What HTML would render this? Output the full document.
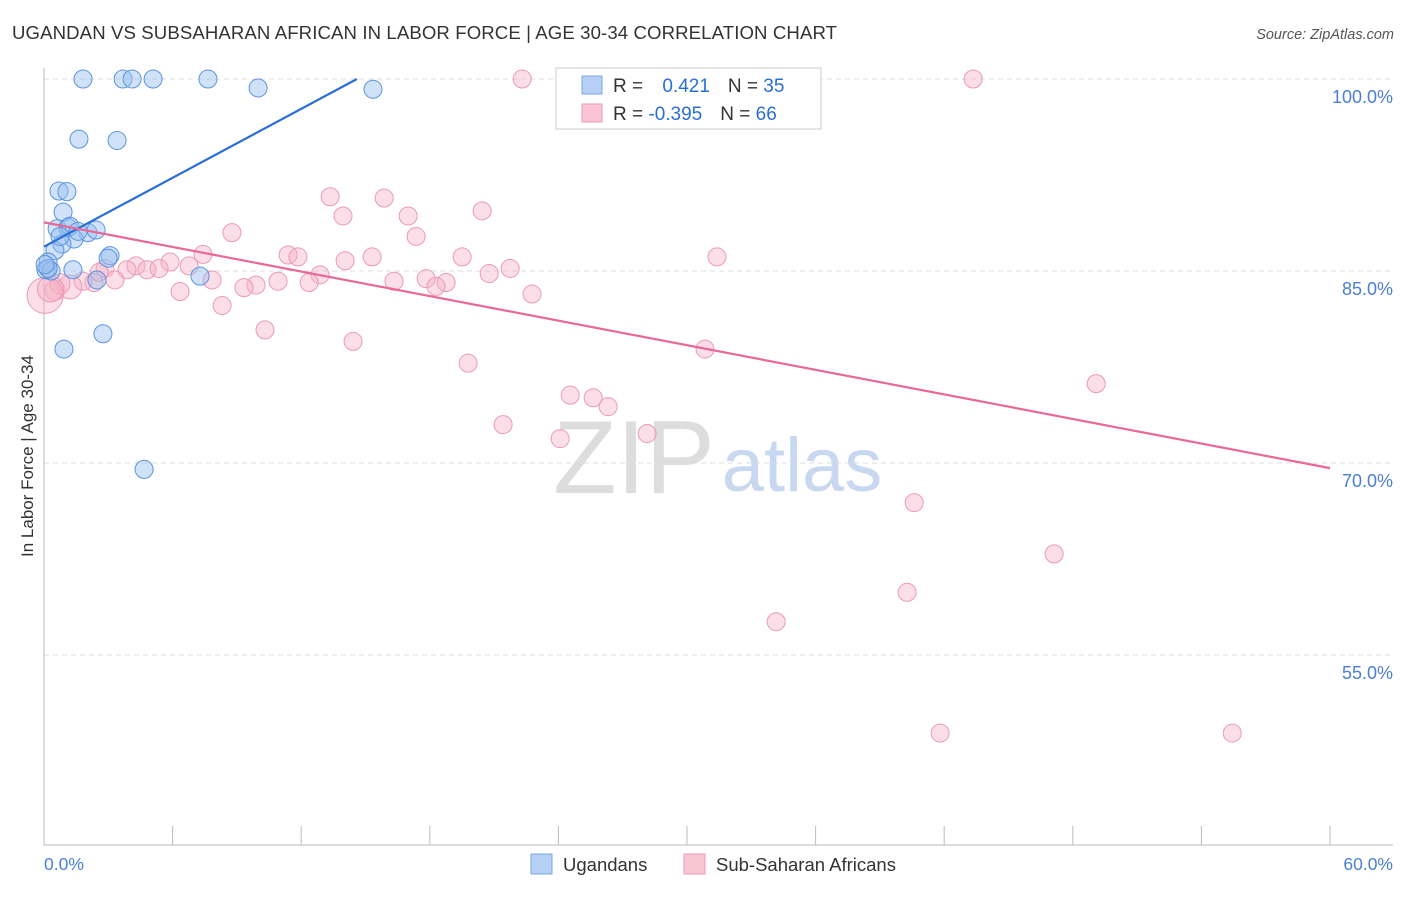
<!DOCTYPE html>
<html><head><meta charset="utf-8"><style>
body{margin:0;background:#fff;font-family:"Liberation Sans",sans-serif;}
svg text{font-family:"Liberation Sans",sans-serif;}
</style></head><body>
<svg id="chart" width="1406" height="892">
<text x="12" y="39" font-size="18.6" fill="#333" textLength="825">UGANDAN VS SUBSAHARAN AFRICAN IN LABOR FORCE | AGE 30-34 CORRELATION CHART</text>
<text x="1394" y="39" font-size="14.5" fill="#555" font-style="italic" text-anchor="end">Source: ZipAtlas.com</text>
<text x="634" y="493" font-size="104" fill="#ddd" font-family="Liberation Serif" text-anchor="middle">ZIP</text>
<text x="802" y="491" font-size="76" fill="#c8d8f0" text-anchor="middle">atlas</text>
<g id="grid"></g>
<line x1="44" y1="68" x2="44" y2="845" stroke="#bbb"/>
<line x1="44" y1="845" x2="1393" y2="845" stroke="#bbb"/>
<text x="33" y="456" font-size="17" fill="#333" text-anchor="middle" transform="rotate(-90 33 456)">In Labor Force | Age 30-34</text>
<text x="44" y="870" font-size="17.5" fill="#4a7fd4">0.0%</text>
<text x="1393" y="870" font-size="17.5" fill="#4a7fd4" text-anchor="end">60.0%</text>
<g id="pts"></g>
<g id="trend"></g>
<g>
<rect x="556" y="68" width="265" height="61" fill="#fff" stroke="#ccc"/>
<rect x="582" y="76" width="20" height="18" fill="#b5d0f3" stroke="#7aa6e6"/>
<rect x="582" y="104" width="20" height="18" fill="#f9c5d5" stroke="#ef9ab6"/>
<text x="613" y="92" font-size="19" fill="#333">R = <tspan fill="#2a6fd6" dx="14">0.421</tspan><tspan fill="#333" dx="18">N = </tspan><tspan fill="#2a6fd6">35</tspan></text>
<text x="613" y="120" font-size="19" fill="#333">R = <tspan fill="#2a6fd6">-0.395</tspan><tspan fill="#333" dx="18">N = </tspan><tspan fill="#2a6fd6">66</tspan></text>
</g>
<g>
<rect x="531" y="854" width="21" height="20" fill="#b5d0f3" stroke="#7aa6e6"/>
<text x="563" y="871" font-size="18.5" fill="#333">Ugandans</text>
<rect x="684" y="854" width="21" height="20" fill="#f9c5d5" stroke="#ef9ab6"/>
<text x="716" y="871" font-size="18.5" fill="#333">Sub-Saharan Africans</text>
</g>
</svg>
<script>
const yTicks=[100,85,70,55];
const yTickLabels=["100.0%","85.0%","70.0%","55.0%"];
const xTicks=[0,6,12,18,24,30,36,42,48,54,60];
const blueX=[1.82,3.69,4.11,5.09,7.65,9.99,15.35,1.63,3.41,0.70,1.07,0.89,0.61,1.12,1.21,2.05,2.43,1.40,0.84,0.51,0.19,0.09,0.33,1.35,3.08,2.99,2.47,7.28,0.93,2.75,4.67,0.19,0.75,1.59,0.05];
const blueY=[100,100,100,100,100,99.3,99.2,95.3,95.2,91.25,91.2,89.6,88.3,88.4,88.5,88.0,88.2,87.5,87.1,86.6,85.7,85.1,85.0,85.1,86.2,86.0,84.3,84.6,78.9,80.1,69.5,85.2,87.7,88.1,85.5];
const pinkX=[22.31,27.95,35.37,43.35,13.35,15.87,13.95,16.99,20.44,8.77,17.36,11.39,11.85,15.31,14.05,19.51,31.40,7.42,5.88,6.77,4.29,4.81,5.37,3.87,2.85,21.75,20.77,12.88,17.83,16.33,18.76,18.29,12.37,10.92,9.89,9.33,7.84,3.31,2.33,1.82,6.35,22.77,8.31,10.31,14.42,30.84,19.79,49.09,24.55,25.62,26.32,21.42,24.08,28.14,40.60,47.13,40.27,34.16,41.81,55.44,0.51,1.21,0.75,2.57,0.05,0.3];
const pinkY=[100,100,100,100,90.8,90.7,89.3,89.3,89.7,88.0,87.7,86.25,86.1,86.1,85.8,86.1,86.1,86.3,85.7,85.4,85.4,85.1,85.2,85.1,85.2,85.2,84.8,84.7,84.4,84.2,84.1,83.8,84.1,84.2,83.9,83.7,84.3,84.3,84.1,84.2,83.4,83.2,82.3,80.4,79.5,78.9,77.8,76.2,75.3,75.1,74.4,73.0,71.9,72.3,66.9,62.9,59.9,57.6,48.9,48.9,83.5,83.75,84.0,84.9,83.1,83.6];
const pinkR=[9,9,9,9,9,9,9,9,9,9,9,9,9,9,9,9,9,9,9,9,9,9,9,9,9,9,9,9,9,9,9,9,9,9,9,9,9,9,9,9,9,9,9,9,9,9,9,9,9,9,9,9,9,9,9,9,9,9,9,9,10,12,10,9,18,13];
const blueTrend=[[0,86.9],[14.6,100]];
const pinkTrend=[[0,88.8],[60,69.6]];
const X=v=>44+v*(1330-44)/60;
const Y=v=>79+(100-v)*192/15;
const NS="http://www.w3.org/2000/svg";
const grid=document.getElementById('grid'),pts=document.getElementById('pts'),tr=document.getElementById('trend');
function mk(tag,at,parent){const e=document.createElementNS(NS,tag);for(const k in at)e.setAttribute(k,at[k]);parent.appendChild(e);return e;}
yTicks.forEach((t,i)=>{
 const l=mk('line',{x1:44,x2:1393,y1:Y(t),y2:Y(t),stroke:'#ddd','stroke-dasharray':'5,4'},grid);
 
 
 const tx=mk('text',{x:1393,y:Y(t)+24,'font-size':18,fill:'#4a7fd4','text-anchor':'end'},grid);
 tx.textContent=yTickLabels[i];
 
 
});
xTicks.forEach(t=>{
 const l=mk('line',{x1:X(t),x2:X(t),y1:826,y2:845,stroke:'#bbb'},grid);
 
 
});
pinkX.forEach((v,i)=>{
 const c=mk('circle',{cx:X(v),cy:Y(pinkY[i]),r:pinkR[i],fill:'rgba(246,176,198,0.42)',stroke:'#eb9ab5','stroke-width':1},pts);
 
 
});
blueX.forEach((v,i)=>{
 const c=mk('circle',{cx:X(v),cy:Y(blueY[i]),r:9,fill:'rgba(150,190,240,0.45)',stroke:'#5b93e0','stroke-width':1},pts);
 
 
});
const bl=mk('line',{x1:X(blueTrend[0][0]),y1:Y(blueTrend[0][1]),x2:X(blueTrend[1][0]),y2:Y(blueTrend[1][1]),stroke:'#2a6fd6','stroke-width':2.2},tr);


const pl=mk('line',{x1:X(pinkTrend[0][0]),y1:Y(pinkTrend[0][1]),x2:X(pinkTrend[1][0]),y2:Y(pinkTrend[1][1]),stroke:'#e8689a','stroke-width':2.2},tr);


</script>
</body></html>
